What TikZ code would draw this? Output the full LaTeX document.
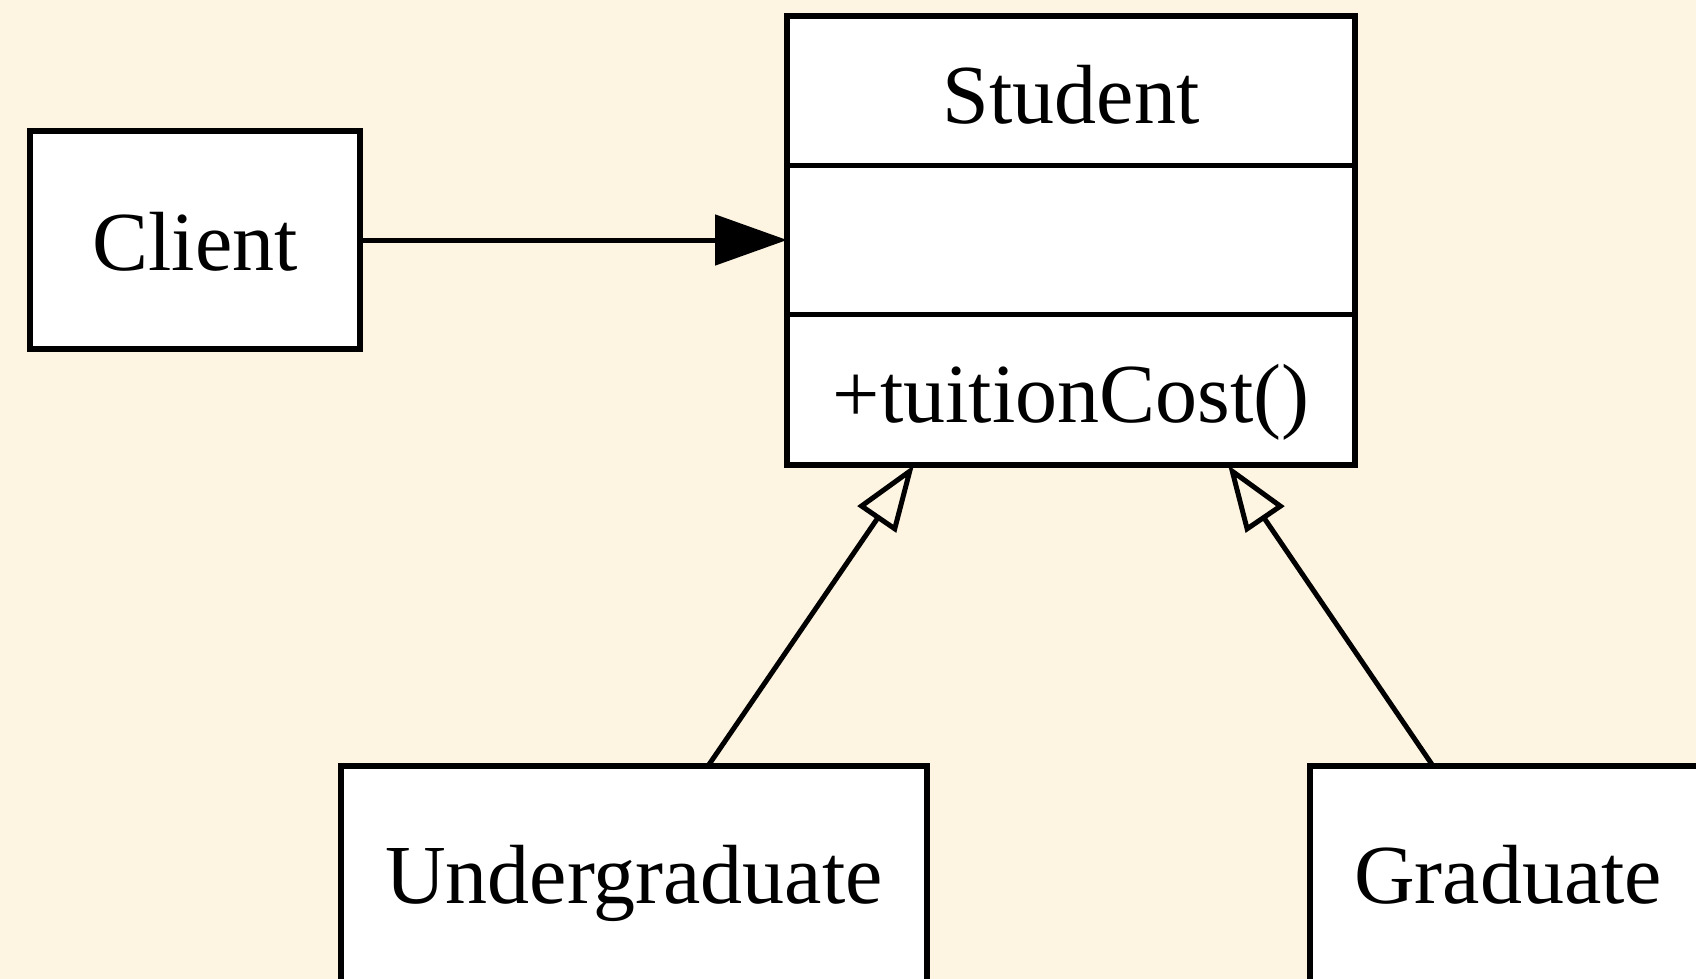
\documentclass[tikz,border=0pt]{standalone}
\usepackage{fontspec}
\setmainfont{Liberation Serif}
\usetikzlibrary{arrows.meta}
\definecolor{paper}{HTML}{FDF5E2}
\begin{document}
\begin{tikzpicture}[x=1pt,y=-1pt,
  box/.style={draw=black,fill=white,line width=5.5pt,inner sep=0pt,outer sep=0pt},
  label/.style={anchor=base,inner sep=0pt,font=\fontsize{84}{100}\selectfont},
  edge/.style={line width=5pt},
  assoc/.style={edge,-{Triangle[length=72pt,width=50pt]}},
  inherit/.style={edge,-{Triangle[open,length=66pt,width=46pt]}}
]
% page and background
\useasboundingbox (0,0) rectangle (1696,979);
\fill[paper] (0,0) rectangle (1696,979);

% class boxes
\node[box,minimum width=330pt,minimum height=218pt] (client) at (195,240) {};
\node[box,minimum width=568pt,minimum height=149.5pt] (name) at (1071,90.75) {};
\node[box,minimum width=568pt,minimum height=149pt] (attr) at (1071,240) {};
\node[box,minimum width=568pt,minimum height=150.5pt] (ops) at (1071,389.75) {};
\node[box,minimum width=586pt,minimum height=220pt] (ug) at (634,876) {};
\node[box,minimum width=398pt,minimum height=220pt] (grad) at (1509,876) {};

% class names and operations
\node[label] (clienttext) at (195,270) {Client};
\node[label] (nametext) at (1071,124) {Student};
\node[label] (opstext) at (1071,422) {+tuitionCost()};
\node[label] (ugtext) at (634,903) {Undergraduate};
\node[label] (gradtext) at (1508,903) {Graduate};

% association and generalisation connectors
\draw[assoc] (client.east) -- (attr.west);
\draw[inherit] ([xshift=74pt]ug.north) -- ([xshift=-157pt]ops.south);
\draw[inherit] ([xshift=-76pt]grad.north) -- ([xshift=157pt]ops.south);
\end{tikzpicture}
\end{document}
